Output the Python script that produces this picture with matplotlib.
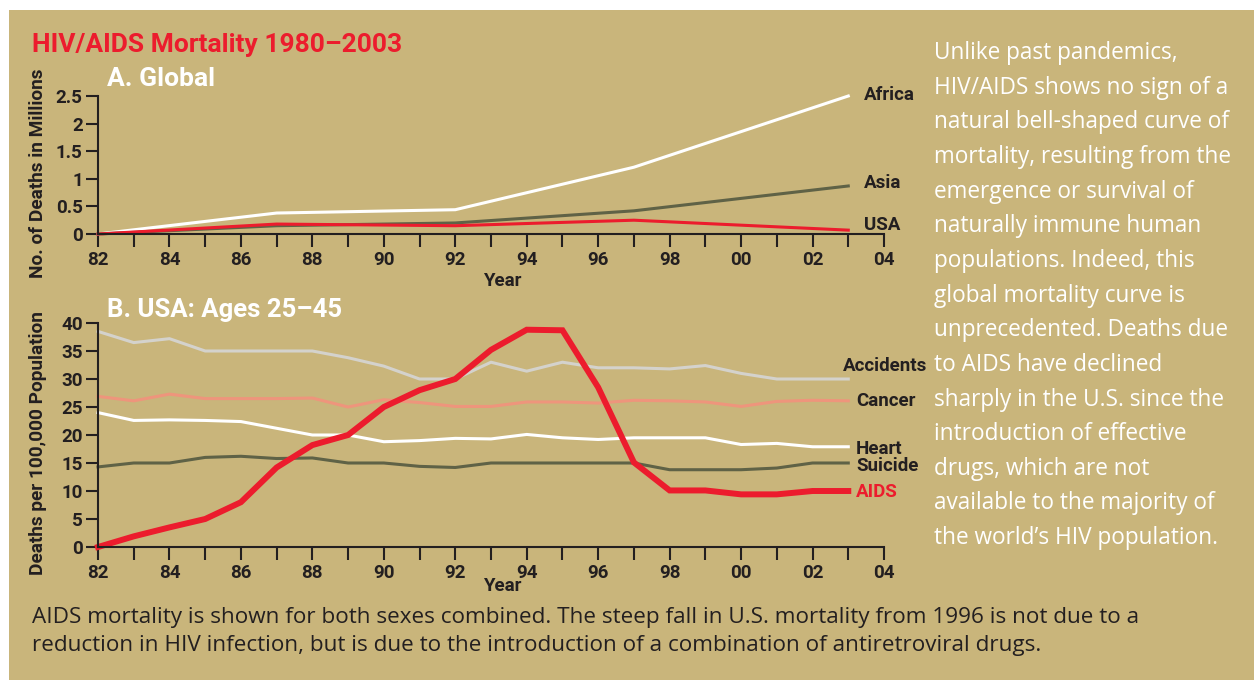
import matplotlib
matplotlib.use('Agg')
import matplotlib.pyplot as plt
from matplotlib.patches import Rectangle
import numpy as np

# ── Data ───────────────────────────────────────────────────────────────────────
global_years = [1982, 1987, 1992, 1997, 2003]
africa       = [0.0, 0.38, 0.44, 1.21, 2.50]
asia         = [0.0, 0.15, 0.20, 0.42, 0.87]
usa          = [0.0, 0.18, 0.15, 0.25, 0.07]

usa_years = list(range(1982, 2004))
aids      = [0.0, 1.9, 3.5, 5.0, 8.0, 14.2, 18.2, 20.0, 25.0, 28.0, 30.0,
             35.2, 38.8, 38.7, 28.5, 15.1, 10.1, 10.1, 9.4, 9.4, 10.0, 10.0]
accidents = [38.5, 36.5, 37.2, 35.0, 35.0, 35.0, 35.0, 33.8, 32.3, 30.0, 30.0,
             33.0, 31.4, 33.0, 32.0, 32.0, 31.8, 32.4, 31.0, 30.0, 30.0, 30.0]
cancer    = [26.9, 26.1, 27.3, 26.5, 26.5, 26.5, 26.6, 25.0, 26.3, 25.8, 25.1,
             25.1, 25.9, 25.9, 25.7, 26.2, 26.1, 25.9, 25.1, 26.0, 26.2, 26.1]
heart     = [24.0, 22.6, 22.7, 22.6, 22.4, 21.2, 20.0, 20.0, 18.8, 19.0, 19.4,
             19.3, 20.1, 19.5, 19.2, 19.5, 19.5, 19.5, 18.3, 18.5, 17.9, 17.9]
suicide   = [14.3, 15.0, 15.0, 16.0, 16.2, 15.8, 15.9, 15.0, 15.0, 14.4, 14.2,
             15.0, 15.0, 15.0, 15.0, 15.0, 13.8, 13.8, 13.8, 14.1, 15.0, 15.0]

global_yticks = [0, 0.5, 1, 1.5, 2, 2.5]
global_yticklabels = ['0', '0.5', '1', '1.5', '2', '2.5']
usa_yticks = [0, 5, 10, 15, 20, 25, 30, 35, 40]

body_lines = [
    "Unlike past pandemics,",
    "HIV/AIDS shows no sign of a",
    "natural bell-shaped curve of",
    "mortality, resulting from the",
    "emergence or survival of",
    "naturally immune human",
    "populations. Indeed, this",
    "global mortality curve is",
    "unprecedented. Deaths due",
    "to AIDS have declined",
    "sharply in the U.S. since the",
    "introduction of effective",
    "drugs, which are not",
    "available to the majority of",
    "the world\u2019s HIV population.",
]
caption_lines = [
    "AIDS mortality is shown for both sexes combined. The steep fall in U.S. mortality from 1996 is not due to a",
    "reduction in HIV infection, but is due to the introduction of a combination of antiretroviral drugs.",
]

# ── Style ──────────────────────────────────────────────────────────────────────
BG     = '#C9B57B'
RED    = '#EC1C2D'
OLIVE  = '#5F6246'
GREY   = '#D4D2CC'
SALMON = '#EE957C'
INK    = '#231F20'
FONT   = 'Roboto'
TEXT_FONT = 'Open Sans'

W, H = 1254, 680
plt.rcParams['font.family'] = FONT


def fx(x):
    return x / W


def fy(y):
    return 1 - y / H


fig = plt.figure(figsize=(W / 100, H / 100), dpi=100)
fig.patch.set_facecolor('white')
fig.add_artist(Rectangle((fx(9), 0), 1 - fx(9), fy(10), transform=fig.transFigure,
                         facecolor=BG, edgecolor='none', zorder=-10))


def style_axes(ax, yticks, yticklabels):
    ax.set_facecolor('none')
    for s in ['top', 'right']:
        ax.spines[s].set_visible(False)
    for s in ['left', 'bottom']:
        ax.spines[s].set_linewidth(1.5)
        ax.spines[s].set_color(INK)
    ax.set_xlim(1982, 2004)
    ax.set_xticks(range(1982, 2005, 2))
    ax.set_xticklabels([f"{y % 100:02d}" for y in range(1982, 2005, 2)])
    ax.set_xticks(range(1982, 2005), minor=True)
    ax.set_yticks(yticks)
    ax.set_yticklabels(yticklabels)
    ax.tick_params(axis='both', which='both', direction='out', length=9,
                   width=1.5, color=INK, labelcolor=INK, labelsize=13.5)
    ax.tick_params(axis='y', pad=2)
    ax.tick_params(axis='x', pad=3)
    for lab in ax.get_xticklabels() + ax.get_yticklabels():
        lab.set_fontweight('bold')


# ── A. Global ──────────────────────────────────────────────────────────────────
ax1 = fig.add_axes([fx(98), fy(234), fx(884) - fx(98), fy(96) - fy(234)])
ax1.plot(global_years, africa, color='white', lw=2.2, solid_joinstyle='miter', clip_on=False)
ax1.plot(global_years, asia, color=OLIVE, lw=2.2, solid_joinstyle='miter', clip_on=False)
ax1.plot(global_years, usa, color=RED, lw=2.2, solid_joinstyle='miter', clip_on=False)
ax1.set_ylim(0, 2.5)
style_axes(ax1, global_yticks, global_yticklabels)

# ── B. USA ages 25-45 ──────────────────────────────────────────────────────────
ax2 = fig.add_axes([fx(98), fy(547), fx(884) - fx(98), fy(323) - fy(547)])
ax2.plot(usa_years, accidents, color=GREY, lw=2.2, clip_on=False)
ax2.plot(usa_years, cancer, color=SALMON, lw=2.2, clip_on=False)
ax2.plot(usa_years, heart, color='white', lw=2.2, clip_on=False)
ax2.plot(usa_years, suicide, color=OLIVE, lw=2.2, clip_on=False)
ax2.plot(usa_years, aids, color=RED, lw=4.3, clip_on=False, solid_joinstyle='miter')
ax2.set_ylim(0, 40)
style_axes(ax2, usa_yticks, [str(v) for v in usa_yticks])

# ── Titles and labels ──────────────────────────────────────────────────────────
fig.text(fx(32), fy(45), "HIV/AIDS Mortality 1980\u20132003", color=RED,
         fontsize=19, fontweight='bold', va='center', ha='left')
fig.text(fx(107), fy(79), "A. Global", color='white', fontsize=19,
         fontweight='bold', va='center', ha='left')
fig.text(fx(107), fy(310), "B. USA: Ages 25\u201345", color='white', fontsize=18.5,
         fontweight='bold', va='center', ha='left')

fig.text(fx(38), fy(173), "No. of Deaths in Millions", rotation=90, color=INK,
         fontsize=13.7, fontweight='bold', va='center', ha='center')
fig.text(fx(38), fy(443), "Deaths per 100,000 Population", rotation=90, color=INK,
         fontsize=13.7, fontweight='bold', va='center', ha='center')
fig.text(fx(502), fy(281), "Year", color=INK, fontsize=13.5, fontweight='bold',
         va='center', ha='center')
fig.text(fx(502), fy(586), "Year", color=INK, fontsize=13.5, fontweight='bold',
         va='center', ha='center')

series_labels = [
    ("Africa", 864, 95, INK), ("Asia", 864, 183, INK), ("USA", 864, 225, INK),
    ("Accidents", 843, 366, INK), ("Cancer", 856, 401, INK),
    ("Heart", 856, 449, INK), ("Suicide", 856, 466, INK), ("AIDS", 856, 492, RED),
]
for txt, x, y, c in series_labels:
    fig.text(fx(x), fy(y), txt, color=c, fontsize=13.5, fontweight='bold',
             va='center', ha='left')

for i, line in enumerate(body_lines):
    fig.text(fx(934), fy(53 + i * 34.65), line, color='white', fontsize=16.3,
             family=TEXT_FONT, va='center', ha='left')

for i, line in enumerate(caption_lines):
    fig.text(fx(32), fy(618 + i * 28), line, color=INK, fontsize=16.2,
             family=TEXT_FONT, va='center', ha='left')

fig.savefig('out.png', dpi=100, facecolor=fig.get_facecolor())
